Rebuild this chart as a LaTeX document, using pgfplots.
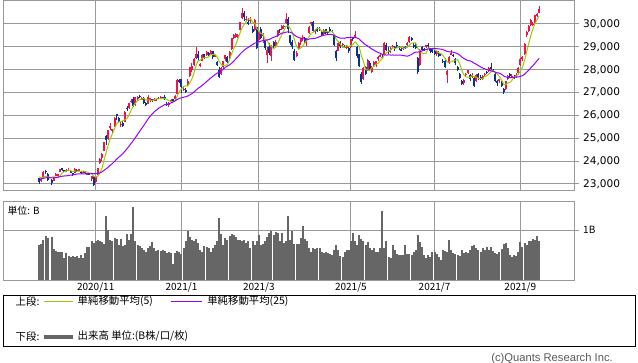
\documentclass[border=0pt]{standalone}
\usepackage{fontspec}
\setmainfont{DejaVu Sans}
\newfontfamily\jp{Noto Sans CJK JP}
\newfontfamily\lib{Liberation Sans}
\usepackage{pgfplots}
\usepackage{pgfplotstable}
\pgfplotsset{compat=1.18}
\definecolor{upred}{RGB}{240,20,70}
\definecolor{dnblue}{RGB}{10,50,150}
\definecolor{mafive}{RGB}{153,204,0}
\definecolor{matwentyfive}{RGB}{153,0,255}
\definecolor{volgray}{RGB}{102,102,102}
\definecolor{gridgray}{RGB}{153,153,153}
\pgfplotstableread{
i o h l c m5 m25 v
0 23250 23280 23000 23087 23320 23218 0.71
1 23150 23250 23100 23204 23264 23221 0.73
2 23270 23550 23250 23511 23302 23246 0.81
3 23590 23622 23450 23539 23338 23271 0.88
4 23420 23500 23150 23185 23306 23279 0.84
6 23170 23200 22950 23029 23294 23268 0.86
7 23130 23320 23110 23312 23316 23269 0.62
8 23390 23480 23380 23433 23300 23278 0.59
9 23330 23440 23320 23422 23276 23300 0.56
10 23530 23660 23520 23647 23368 23320 0.56
11 23690 23700 23560 23619 23486 23339 0.57
12 23620 23620 23510 23558 23536 23352 0.45
13 23570 23650 23550 23601 23570 23357 0.54
14 23600 23680 23560 23626 23612 23374 0.49
15 23560 23590 23480 23507 23584 23390 0.47
16 23460 23470 23350 23410 23542 23396 0.49
17 23500 23700 23480 23671 23564 23422 0.47
18 23620 23640 23520 23567 23558 23435 0.49
19 23600 23660 23560 23639 23560 23444 0.45
20 23540 23560 23440 23474 23552 23440 0.51
21 23500 23560 23470 23516 23574 23443 0.44
22 23520 23550 23440 23494 23538 23444 0.54
23 23420 23500 23380 23485 23522 23450 0.66
24 23440 23470 23390 23418 23478 23453 0.66
25 23220 23340 23130 23331 23450 23452 0.78
26 23330 23340 22950 22977 23342 23448 0.74
27 23080 23300 23050 23295 23304 23452 0.79
28 23400 23700 23380 23695 23346 23459 0.81
29 23900 24120 23880 24105 23484 23482 0.78
30 24120 24350 24010 24325 23684 23528 0.76
31 24450 24840 24430 24839 24056 23600 0.72
32 25100 25150 24700 24905 24378 23664 1.28
33 24950 25350 24930 25349 24708 23741 1.01
34 25460 25660 25380 25520 24990 23825 0.81
35 25300 25400 25170 25385 25202 23894 0.78
36 25540 25910 25480 25906 25416 23986 0.84
37 26050 26060 25800 26014 25636 24084 0.83
38 25900 25930 25650 25728 25712 24169 0.71
39 25600 25700 25500 25634 25734 24249 0.83
40 25650 25750 25480 25527 25762 24330 0.68
41 25700 26200 25700 26165 25814 24440 0.71
42 26330 26400 26200 26297 25872 24546 0.93
43 26330 26540 26300 26537 26034 24664 0.81
44 26600 26700 26560 26644 26236 24784 0.93
45 26700 26800 26400 26434 26416 24903 1.47
46 26450 26800 26430 26787 26540 25034 0.79
47 26750 26850 26650 26801 26640 25166 0.71
48 26860 26880 26750 26809 26694 25299 0.68
49 26700 26800 26700 26751 26716 25432 0.64
50 26750 26790 26540 26547 26740 25561 0.61
51 26530 26590 26400 26467 26676 25700 0.57
52 26500 26880 26500 26817 26680 25841 0.64
53 26700 26760 26600 26756 26670 25964 0.68
54 26700 26720 26610 26652 26650 26065 0.76
55 26700 26750 26650 26732 26686 26161 0.64
56 26640 26720 26620 26687 26730 26235 0.59
57 26780 26800 26700 26757 26718 26309 0.61
58 26780 26830 26720 26806 26728 26368 0.59
59 26790 26800 26700 26763 26750 26417 0.61
60 26800 26900 26680 26714 26746 26470 0.59
61 26520 26600 26400 26436 26696 26491 0.54
62 26440 26570 26370 26524 26648 26512 0.57
63 26600 26700 26590 26668 26620 26549 0.54
64 26700 26710 26640 26656 26600 26590 0.32
65 26700 26900 26690 26854 26628 26643 0.54
66 26940 27600 26930 27568 26854 26699 0.59
67 27560 27600 27400 27444 27038 26745 0.57
68 27580 27600 27000 27258 27156 26774 0.52
69 27150 27280 27070 27158 27256 26794 0.64
70 27100 27200 27000 27056 27298 26820 0.78
71 27340 27600 27300 27490 27282 26848 0.98
72 27720 28140 27700 28139 27422 26901 0.86
73 28000 28290 27900 28164 27602 26955 0.81
74 28200 28500 28150 28456 27862 27024 0.79
75 28520 28980 28480 28698 28190 27110 0.83
76 28700 28800 28400 28519 28396 27192 0.74
77 28200 28300 28100 28242 28416 27248 0.61
78 28400 28700 28380 28633 28510 27323 0.57
79 28700 28700 28500 28523 28522 27398 0.68
80 28650 28800 28600 28756 28534 27479 0.66
81 28750 28780 28600 28631 28556 27557 0.64
82 28700 28850 28680 28822 28672 27639 0.57
83 28800 28810 28450 28546 28656 27709 0.64
84 28600 28700 28550 28635 28680 27784 0.71
85 28350 28400 28150 28197 28568 27844 0.78
86 28000 28100 27630 27663 28374 27892 1.25
87 27800 28100 27780 28091 28228 27955 0.93
88 28100 28400 28050 28362 28190 28023 0.71
89 28450 28650 28400 28646 28192 28102 0.84
90 28550 28600 28300 28341 28220 28162 0.81
91 28500 28800 28450 28779 28444 28210 0.88
92 28900 29400 28880 29388 28704 28288 0.93
93 29400 29560 29350 29505 28934 28378 0.91
94 29450 29600 29400 29562 29116 28474 0.86
95 29430 29550 29370 29520 29352 28573 0.81
96 29750 30100 29720 30084 29612 28676 0.81
97 30250 30714 30200 30467 29828 28770 0.78
98 30500 30550 30150 30292 29984 28855 0.81
99 30200 30350 30100 30236 30120 28926 0.74
100 30100 30250 29950 30017 30220 28979 0.78
101 30150 30300 30050 30156 30236 29044 0.64
102 29800 29900 29650 29671 30076 29102 0.78
103 29750 30200 29700 30168 30052 29163 0.71
104 29850 29880 28950 28966 29798 29181 0.78
105 29300 29670 29200 29663 29726 29217 0.91
106 29800 29850 29350 29408 29576 29248 0.71
107 29500 29600 29150 29559 29554 29278 0.72
108 29300 29300 28880 28930 29306 29293 0.78
109 28650 29000 28300 28864 29284 29302 0.86
110 29000 29150 28650 28743 29100 29324 0.95
111 28600 29100 28400 29028 29024 29378 0.98
112 29200 29250 28900 29036 28920 29416 0.91
113 29100 29300 29050 29211 28976 29450 0.96
114 29500 29740 29450 29717 29148 29493 0.95
115 29800 29800 29600 29766 29354 29550 0.79
116 29800 29950 29750 29921 29532 29596 0.95
117 29900 29960 29800 29914 29706 29617 0.74
118 30050 30485 30000 30216 29908 29645 0.78
119 30200 30300 29600 29792 29922 29654 1.28
120 29500 29520 29100 29174 29802 29640 0.80
121 29200 29300 28900 28995 29618 29597 0.98
122 28800 28900 28380 28405 29318 29515 0.72
123 28600 28800 28550 28729 29020 29452 0.72
124 28900 29200 28850 29176 28898 29410 0.72
125 29200 29400 29100 29384 28940 29384 0.84
126 29400 29500 29250 29432 29026 29355 1.08
127 29400 29450 29150 29178 29180 29336 0.83
128 29300 29400 29050 29388 29312 29304 0.78
129 29600 29900 29550 29854 29446 29340 0.64
130 30000 30100 29900 30089 29588 29357 0.56
131 30100 30150 29650 29696 29642 29368 0.64
132 29700 29800 29550 29730 29752 29375 0.63
133 29800 29850 29650 29708 29816 29406 0.64
134 29800 29850 29700 29768 29800 29443 0.64
135 29650 29700 29500 29538 29690 29475 0.56
136 29550 29780 29500 29751 29700 29504 0.54
137 29800 29800 29550 29620 29678 29527 0.56
138 29650 29700 29550 29642 29664 29544 0.54
139 29800 29850 29650 29683 29646 29542 0.52
140 29700 29750 29600 29685 29676 29539 0.51
141 29500 29550 29050 29100 29546 29506 0.61
142 28800 28850 28400 28508 29324 29450 0.70
143 28800 29200 28800 29188 29234 29409 0.61
144 29200 29250 28950 29020 29102 29378 0.49
145 29100 29150 28950 29126 28990 29377 0.47
146 29000 29100 28950 28991 28968 29376 0.57
147 28950 29100 28900 29053 29076 29402 0.61
148 28950 29000 28750 28812 29000 29405 0.61
149 29000 29350 28950 29331 29062 29411 0.78
150 29400 29400 29250 29357 29108 29410 0.95
151 29450 29685 29400 29518 29214 29414 0.78
152 29000 29050 28500 28608 29126 29391 0.71
153 28700 28700 28100 28147 28994 29342 0.90
154 27800 27900 27385 27448 28618 29246 0.83
155 27600 28100 27550 28084 28362 29165 0.78
156 28100 28150 27750 27824 28022 29090 0.71
157 28000 28450 27950 28406 27982 29037 0.76
158 28300 28400 28000 28044 27960 28970 0.64
159 27900 28150 27850 28098 28090 28904 0.61
160 28200 28400 28150 28317 28138 28855 0.64
161 28250 28400 28100 28364 28246 28799 0.57
162 28450 28600 28400 28553 28274 28756 0.57
163 28600 28700 28550 28642 28394 28716 0.64
164 28550 28650 28500 28549 28484 28671 1.39
165 28700 29200 28650 29149 28650 28650 0.64
166 29100 29150 28800 28860 28750 28640 0.79
167 28850 29000 28700 28814 28802 28652 0.47
168 28900 29000 28750 28946 28864 28642 0.45
169 29000 29100 28950 29058 28966 28644 0.70
170 29000 29050 28800 28941 28924 28636 0.61
171 29100 29200 28950 29019 28956 28638 0.52
172 29000 29050 28850 28963 28986 28634 0.51
173 28900 28950 28800 28860 28968 28636 0.51
174 28900 29000 28850 28958 28948 28621 0.51
175 29000 29050 28900 28948 28950 28605 0.70
176 29100 29200 29050 29161 28978 28590 0.52
177 29200 29480 29150 29441 29074 28624 0.52
178 29400 29450 29250 29291 29160 28669 0.51
179 29100 29150 28950 29018 29172 28732 0.57
180 29100 29150 28900 28964 29174 28767 0.61
181 28500 28550 27800 27917 28926 28771 0.90
182 28200 28900 28150 28884 28814 28790 0.76
183 29000 29050 28850 28874 28730 28823 0.66
184 28900 28950 28800 28875 28702 28854 0.51
185 29000 29100 28950 29066 28724 28884 0.45
186 29100 29150 28950 29048 28950 28912 0.51
187 28900 28950 28750 28812 28936 28922 0.47
188 28900 28950 28750 28791 28920 28928 0.57
189 28800 28850 28650 28707 28886 28935 0.57
190 28700 28800 28600 28783 28828 28920 0.52
191 28750 28800 28550 28598 28738 28910 0.47
192 28700 28750 28600 28643 28704 28903 0.41
193 28400 28450 28300 28366 28620 28880 0.61
194 28400 28500 28100 28118 28502 28842 0.59
195 27750 28000 27420 27940 28334 28802 0.57
196 28300 28600 28250 28569 28328 28784 0.81
197 28700 28850 28650 28718 28344 28774 0.61
198 28650 28700 28550 28608 28392 28764 0.54
199 28450 28500 28200 28279 28424 28737 0.52
200 28100 28150 27950 28003 28436 28699 0.51
201 27800 27850 27600 27652 28252 28639 0.49
202 27500 27550 27330 27388 27986 28557 0.61
203 27400 27600 27350 27548 27774 28487 0.54
204 27800 27850 27700 27833 27684 28440 0.57
205 27850 28000 27800 27970 27678 28400 0.54
206 27750 27800 27500 27581 27664 28386 0.61
207 27700 27850 27650 27782 27742 28342 0.68
208 27650 27700 27270 27283 27688 28279 0.70
209 27500 27800 27450 27781 27678 28235 0.64
210 27800 27850 27550 27641 27612 28178 0.61
211 27700 27750 27550 27584 27612 28119 0.57
212 27600 27750 27550 27728 27602 28076 0.64
213 27800 27850 27700 27820 27710 28037 0.61
214 27900 27950 27800 27888 27732 28004 0.66
215 27950 28100 27900 28070 27818 27976 0.61
216 28100 28300 28000 28015 27906 27952 0.66
217 28000 28050 27900 27977 27956 27926 0.59
218 27800 27850 27500 27523 27896 27892 0.54
219 27500 27550 27300 27424 27802 27864 0.52
220 27500 27600 27400 27585 27706 27850 0.57
221 27450 27500 27250 27281 27558 27798 0.63
222 27150 27200 26954 27013 27364 27730 0.72
223 27150 27500 27100 27494 27358 27685 0.74
224 27600 27750 27550 27732 27420 27663 0.64
225 27800 27850 27650 27724 27446 27652 0.51
226 27700 27800 27650 27742 27538 27656 0.47
227 27700 27750 27600 27641 27664 27666 0.51
228 27700 27850 27650 27789 27724 27675 0.49
229 27850 28100 27800 28089 27796 27686 0.57
230 28200 28500 28150 28451 27942 27705 0.76
231 28500 28600 28400 28543 28102 27743 0.66
232 28700 29150 28650 29128 28400 27797 0.74
233 29500 29700 29450 29659 28774 27892 0.71
234 29700 29950 29650 29916 29140 27978 0.79
235 29950 30200 29900 30181 29486 28080 0.78
236 29950 30100 29900 30008 29780 28177 0.83
237 30100 30400 30050 30381 30030 28283 0.81
238 30350 30500 30300 30447 30188 28388 0.89
239 30500 30796 30500 30670 30338 28499 0.78
}\data

\pgfplotsset{
  chartbase/.style={
    scale only axis, width=428.625pt,
    xmin=-17.32, xmax=255.9,
    xtick={27,68,105,149,189,230},
    grid=major,
    major grid style={gridgray, line width=0.75pt},
    axis line style={gridgray, line width=0.75pt},
    xtick style={draw=none},
    ytick pos=right, yticklabel pos=right,
    tick align=outside,
    ytick style={gridgray, line width=0.75pt},
    major tick length=3pt,
    scaled y ticks=false,
  },
  candlewick/.style={draw=none, mark=none, forget plot,
    error bars/.cd, y dir=both, y explicit, error mark=none,
    error bar style={draw=#1, solid, line width=0.75pt}, /pgfplots/.cd},
  candlebody/.style={draw=none, mark=none, forget plot,
    error bars/.cd, y dir=both, y explicit, error mark=none,
    error bar style={draw=#1, solid, line width=1.5pt}, /pgfplots/.cd},
  up/.style={restrict expr to domain={\thisrow{c}-\thisrow{o}}{0:100000}},
  down/.style={restrict expr to domain={\thisrow{c}-\thisrow{o}}{-100000:-0.5}},
}

\begin{document}
\begin{tikzpicture}
\useasboundingbox (0,0) rectangle (478.5pt,-271.5pt);

\begin{axis}[chartbase,
  at={(2.25pt,-142.5pt)}, anchor=south west,
  height=141.975pt,
  ymin=22737, ymax=31019,
  ytick={23000,24000,25000,26000,27000,28000,29000,30000},
  yticklabels={{23,000},{24,000},{25,000},{26,000},{27,000},{28,000},{29,000},{30,000}},
  xticklabels={},
  yticklabel style={font=\fontsize{7.9}{9}\selectfont},
]
% up candles
\addplot[up, candlewick=upred]
  table[x=i, y=c, y error plus expr=\thisrow{h}-\thisrow{c}, y error minus expr=\thisrow{c}-\thisrow{l}] {\data};
\addplot[up, candlebody=upred]
  table[x=i, y expr=(\thisrow{o}+\thisrow{c})/2, y error expr=abs(\thisrow{c}-\thisrow{o})/2] {\data};
% down candles
\addplot[down, candlewick=dnblue]
  table[x=i, y=c, y error plus expr=\thisrow{h}-\thisrow{c}, y error minus expr=\thisrow{c}-\thisrow{l}] {\data};
\addplot[down, candlebody=dnblue]
  table[x=i, y expr=(\thisrow{o}+\thisrow{c})/2, y error expr=abs(\thisrow{c}-\thisrow{o})/2] {\data};
% moving averages
\addplot[mafive, line width=0.75pt, mark=none] table[x=i, y=m5] {\data};
\addplot[matwentyfive, line width=0.75pt, mark=none] table[x=i, y=m25] {\data};
\end{axis}

\begin{axis}[chartbase,
  at={(2.25pt,-210pt)}, anchor=south west,
  height=59.25pt,
  ymin=0, ymax=1.59,
  ytick={1}, yticklabels={1B},
  yticklabel style={font=\jp\fontsize{7.5}{9}\selectfont},
  xticklabels={2020/11,2021/1,2021/3,2021/5,2021/7,2021/9},
  xticklabel style={font=\jp\fontsize{7.5}{9}\selectfont, yshift=4.3pt},
]
\addplot[ycomb, volgray, line width=1.5pt, mark=none] table[x=i, y=v] {\data};
\end{axis}

\node[anchor=west, inner sep=0pt, font=\jp\fontsize{7.4}{9}\selectfont] at (5.5pt,-157.9pt) {単位: B};

% legend box
\draw[black, line width=0.75pt] (2.25pt,-221.25pt) rectangle (476.25pt,-259.5pt);
\node[anchor=west, inner sep=0pt, font=\jp\fontsize{7.8}{9}\selectfont] at (11.6pt,-226.1pt) {上段:};
\draw[mafive, line width=0.75pt] (32.7pt,-226.1pt) -- (54.5pt,-226.1pt);
\node[anchor=west, inner sep=0pt, font=\jp\fontsize{7.8}{9}\selectfont] at (58.1pt,-226.1pt) {単純移動平均(5)};
\draw[matwentyfive, line width=0.75pt] (128.3pt,-226.1pt) -- (151.5pt,-226.1pt);
\node[anchor=west, inner sep=0pt, font=\jp\fontsize{7.8}{9}\selectfont] at (155.3pt,-226.1pt) {単純移動平均(25)};
\node[anchor=west, inner sep=0pt, font=\jp\fontsize{7.8}{9}\selectfont] at (11.6pt,-252.4pt) {下段:};
\draw[volgray, line width=3pt] (32.7pt,-252.4pt) -- (54.5pt,-252.4pt);
\node[anchor=west, inner sep=0pt, font=\jp\fontsize{7.8}{9}\selectfont] at (58.1pt,-252.4pt) {出来高 単位:(B株/口/枚)};
\node[anchor=east, inner sep=0pt, font=\lib\fontsize{8.4}{9}\selectfont, text=black!65] at (459.75pt,-268.9pt) {(c)Quants Research Inc.};
\end{tikzpicture}
\end{document}
